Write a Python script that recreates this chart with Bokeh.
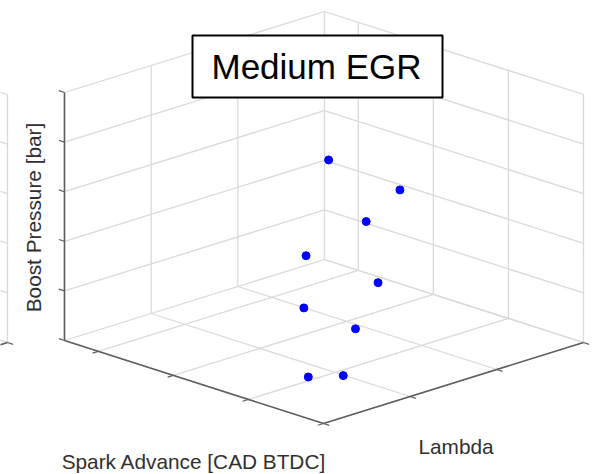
import numpy as np
from bokeh.plotting import figure
from bokeh.models import Range1d
from bokeh.core.properties import value
from bokeh.embed import file_html
from bokeh.resources import INLINE

# Operating points at medium EGR
spark_advance = [23.3, 28.8, 25.8, 22.2, 27.4, 22.4, 26.3, 24.6, 25.6]      # CAD BTDC
lambda_vals = [1.022, 1.009, 1.022, 1.015, 1.008, 1.009, 1.001, 0.976, 0.999]
boost_bar = [1.8, 1.8, 1.6, 1.4, 1.4, 1.2, 1.2, 1.0, 1.0]

# Axis limits and tick positions of the 3-D box
spark_lim = (12.75, 30.0)
lambda_lim = (0.9, 1.2)
boost_lim = (1.0, 2.0)
spark_ticks = [15, 20, 25, 30]
lambda_ticks = [0.9, 1.0, 1.1, 1.2]
boost_ticks = [1.0, 1.2, 1.4, 1.6, 1.8, 2.0]

title_text = "Medium EGR"
xlabel = "Spark Advance [CAD BTDC]"
ylabel = "Lambda"
zlabel = "Boost Pressure [bar]"

W, H = 597, 474
FONT = "Liberation Sans"

# Screen projection of the unit cube (pixels, y pointing down)
ORIGIN = np.array([64.0, 340.0])
E_U = np.array([259.0, 83.0])     # spark direction
E_V = np.array([260.0, -81.0])    # lambda direction
E_W = np.array([0.0, -248.0])     # boost direction
NEIGHBOUR_DX = -576.0             # the adjacent panel on the left


def norm(vals, lim):
    return (np.asarray(vals, float) - lim[0]) / (lim[1] - lim[0])


def project(u, v, w, dx=0.0):
    u, v, w = np.broadcast_arrays(np.asarray(u, float), np.asarray(v, float),
                                  np.asarray(w, float))
    px = ORIGIN[0] + dx + u * E_U[0] + v * E_V[0] + w * E_W[0]
    py = ORIGIN[1] + u * E_U[1] + v * E_V[1] + w * E_W[1]
    return px, H - py


def seg_arrays(segs, dx=0.0):
    a = np.array([s[0] for s in segs], float)
    b = np.array([s[1] for s in segs], float)
    x0, y0 = project(a[:, 0], a[:, 1], a[:, 2], dx)
    x1, y1 = project(b[:, 0], b[:, 1], b[:, 2], dx)
    return dict(x0=x0, y0=y0, x1=x1, y1=y1)


us = norm(spark_ticks, spark_lim)
vs = norm(lambda_ticks, lambda_lim)
ws = norm(boost_ticks, boost_lim)

grid = []
# floor
grid += [((u, 0, 0), (u, 1, 0)) for u in us]
grid += [((0, v, 0), (1, v, 0)) for v in vs]
# back-left wall (u = 0)
grid += [((0, 0, w), (0, 1, w)) for w in ws]
grid += [((0, v, 0), (0, v, 1)) for v in vs]
# back-right wall (v = 1)
grid += [((0, 1, w), (1, 1, w)) for w in ws]
grid += [((u, 1, 0), (u, 1, 1)) for u in us]

axes = [((0, 0, 0), (0, 0, 1)), ((0, 0, 0), (1, 0, 0)), ((1, 0, 0), (1, 1, 0))]
tl = 0.022
ticks = [((0, 0, w), (-tl, 0, w)) for w in ws]
ticks += [((u, 0, 0), (u, -tl, 0)) for u in us]
ticks += [((1, v, 0), (1 + tl, v, 0)) for v in vs]

p = figure(width=W, height=H, x_range=Range1d(0, W), y_range=Range1d(0, H),
           toolbar_location=None, output_backend="svg", min_border=0,
           x_axis_location=None, y_axis_location=None)
p.grid.visible = False
p.outline_line_color = None
p.background_fill_color = "white"
p.border_fill_color = "white"

grid_color = "#d9d9d9"
axis_color = "#5e5e5e"
for dx in (NEIGHBOUR_DX, 0.0):
    p.segment(**seg_arrays(grid, dx), line_color=grid_color, line_width=1.3)
    p.segment(**seg_arrays(axes, dx), line_color=axis_color, line_width=1.6)
    p.segment(**seg_arrays(ticks, dx), line_color=axis_color, line_width=1.2)

# data points
xs, ys = project(norm(spark_advance, spark_lim), norm(lambda_vals, lambda_lim),
                 norm(boost_bar, boost_lim))
p.scatter(xs, ys, size=8, fill_color="#0000ff", line_color="#0000ff")

# axis labels
label_style = dict(text_font=value(FONT), text_font_size="20.8px",
                   text_color="#303030", text_align="center",
                   text_baseline="alphabetic")
p.text(x=[193.5], y=[H - 461], text=[xlabel], **label_style)
p.text(x=[455.5], y=[H - 446], text=[ylabel], **label_style)
p.text(x=[33], y=[H - 217], text=[zlabel], angle=np.pi / 2, **label_style)

# title box
p.quad(left=[192], right=[442], top=[H - 35], bottom=[H - 97],
       fill_color="white", line_color="black", line_width=2)
p.text(x=[316], y=[H - 66], text=[title_text], text_font=value(FONT),
       text_font_size="35px", text_color="black", text_align="center",
       text_baseline="middle")

open("out.html", "w").write(file_html(p, INLINE))
